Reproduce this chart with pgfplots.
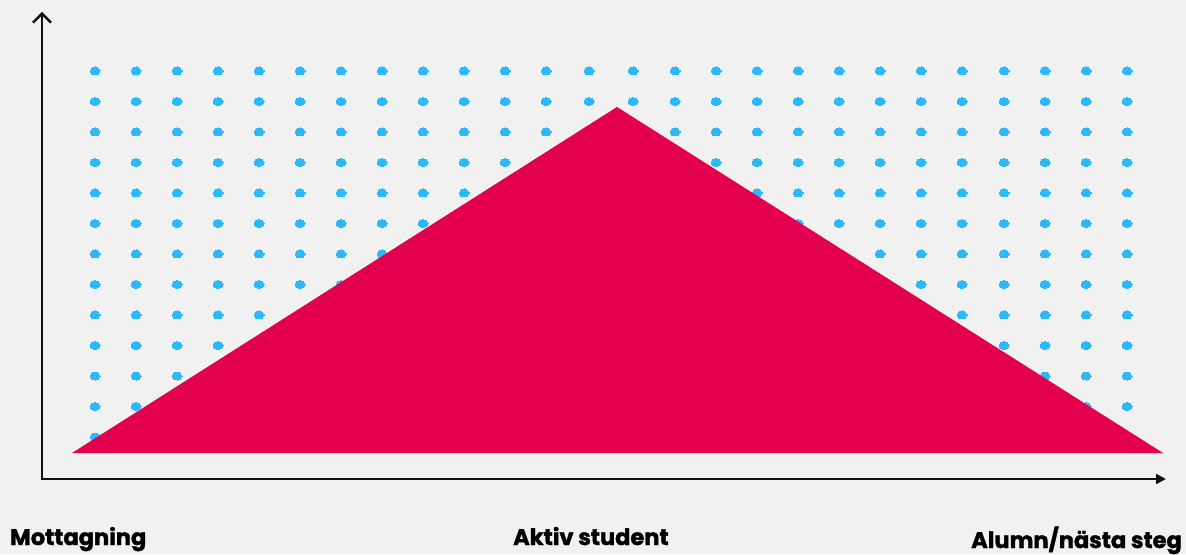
\documentclass[border=0pt]{standalone}
\usepackage{pgfplots}
\pgfplotsset{compat=1.18}
\usepackage{fontspec}
\setmainfont{Poppins}[BoldFeatures={FakeBold=1.6}]
\usetikzlibrary{arrows.meta}
\definecolor{bg}{HTML}{F1F1F1}
\definecolor{dot}{HTML}{2BB9FB}
\definecolor{tri}{HTML}{E3004F}
\definecolor{ink}{HTML}{111111}
\begin{document}
\begin{tikzpicture}
\begin{axis}[
  scale only axis, width=1186pt, height=554pt,
  xmin=0, xmax=1186, ymin=0, ymax=554,
  hide axis, clip=false, clip marker paths=true,
]
% background
\addplot[fill=bg, draw=none] coordinates {(0,0) (1186,0) (1186,554) (0,554)} -- cycle;
% dot grid
\pgfplotsset{dotstyle/.style={only marks, mark=*, color=dot, mark size=4pt, mark options={draw=dot, fill=dot, line width=0pt, xscale=1.25}}}
\addplot[dotstyle] coordinates {(95,483) (136,483) (177,483) (218,483) (259,483) (300,483) (341,483) (382,483) (423,483) (464,483) (505,483) (546,483) (589,483) (633,483) (675,483) (716,483) (757,483) (798,483) (839,483) (880,483) (921,483) (962,483) (1004,483) (1045,483) (1086,483) (1127,483)};
\addplot[dotstyle] coordinates {(95,452.5) (136,452.5) (177,452.5) (218,452.5) (259,452.5) (300,452.5) (341,452.5) (382,452.5) (423,452.5) (464,452.5) (505,452.5) (546,452.5) (589,452.5) (633,452.5) (675,452.5) (716,452.5) (757,452.5) (798,452.5) (839,452.5) (880,452.5) (921,452.5) (962,452.5) (1004,452.5) (1045,452.5) (1086,452.5) (1127,452.5)};
\addplot[dotstyle] coordinates {(95,422) (136,422) (177,422) (218,422) (259,422) (300,422) (341,422) (382,422) (423,422) (464,422) (505,422) (546,422) (589,422) (633,422) (675,422) (716,422) (757,422) (798,422) (839,422) (880,422) (921,422) (962,422) (1004,422) (1045,422) (1086,422) (1127,422)};
\addplot[dotstyle] coordinates {(95,391.5) (136,391.5) (177,391.5) (218,391.5) (259,391.5) (300,391.5) (341,391.5) (382,391.5) (423,391.5) (464,391.5) (505,391.5) (546,391.5) (589,391.5) (633,391.5) (675,391.5) (716,391.5) (757,391.5) (798,391.5) (839,391.5) (880,391.5) (921,391.5) (962,391.5) (1004,391.5) (1045,391.5) (1086,391.5) (1127,391.5)};
\addplot[dotstyle] coordinates {(95,361) (136,361) (177,361) (218,361) (259,361) (300,361) (341,361) (382,361) (423,361) (464,361) (505,361) (546,361) (589,361) (633,361) (675,361) (716,361) (757,361) (798,361) (839,361) (880,361) (921,361) (962,361) (1004,361) (1045,361) (1086,361) (1127,361)};
\addplot[dotstyle] coordinates {(95,330.5) (136,330.5) (177,330.5) (218,330.5) (259,330.5) (300,330.5) (341,330.5) (382,330.5) (423,330.5) (464,330.5) (505,330.5) (546,330.5) (589,330.5) (633,330.5) (675,330.5) (716,330.5) (757,330.5) (798,330.5) (839,330.5) (880,330.5) (921,330.5) (962,330.5) (1004,330.5) (1045,330.5) (1086,330.5) (1127,330.5)};
\addplot[dotstyle] coordinates {(95,300) (136,300) (177,300) (218,300) (259,300) (300,300) (341,300) (382,300) (423,300) (464,300) (505,300) (546,300) (589,300) (633,300) (675,300) (716,300) (757,300) (798,300) (839,300) (880,300) (921,300) (962,300) (1004,300) (1045,300) (1086,300) (1127,300)};
\addplot[dotstyle] coordinates {(95,269.5) (136,269.5) (177,269.5) (218,269.5) (259,269.5) (300,269.5) (341,269.5) (382,269.5) (423,269.5) (464,269.5) (505,269.5) (546,269.5) (589,269.5) (633,269.5) (675,269.5) (716,269.5) (757,269.5) (798,269.5) (839,269.5) (880,269.5) (921,269.5) (962,269.5) (1004,269.5) (1045,269.5) (1086,269.5) (1127,269.5)};
\addplot[dotstyle] coordinates {(95,239) (136,239) (177,239) (218,239) (259,239) (300,239) (341,239) (382,239) (423,239) (464,239) (505,239) (546,239) (589,239) (633,239) (675,239) (716,239) (757,239) (798,239) (839,239) (880,239) (921,239) (962,239) (1004,239) (1045,239) (1086,239) (1127,239)};
\addplot[dotstyle] coordinates {(95,208.5) (136,208.5) (177,208.5) (218,208.5) (259,208.5) (300,208.5) (341,208.5) (382,208.5) (423,208.5) (464,208.5) (505,208.5) (546,208.5) (589,208.5) (633,208.5) (675,208.5) (716,208.5) (757,208.5) (798,208.5) (839,208.5) (880,208.5) (921,208.5) (962,208.5) (1004,208.5) (1045,208.5) (1086,208.5) (1127,208.5)};
\addplot[dotstyle] coordinates {(95,178) (136,178) (177,178) (218,178) (259,178) (300,178) (341,178) (382,178) (423,178) (464,178) (505,178) (546,178) (589,178) (633,178) (675,178) (716,178) (757,178) (798,178) (839,178) (880,178) (921,178) (962,178) (1004,178) (1045,178) (1086,178) (1127,178)};
\addplot[dotstyle] coordinates {(95,147.5) (136,147.5) (177,147.5) (218,147.5) (259,147.5) (300,147.5) (341,147.5) (382,147.5) (423,147.5) (464,147.5) (505,147.5) (546,147.5) (589,147.5) (633,147.5) (675,147.5) (716,147.5) (757,147.5) (798,147.5) (839,147.5) (880,147.5) (921,147.5) (962,147.5) (1004,147.5) (1045,147.5) (1086,147.5) (1127,147.5)};
\addplot[dotstyle] coordinates {(95,117) (136,117) (177,117) (218,117) (259,117) (300,117) (341,117) (382,117) (423,117) (464,117) (505,117) (546,117) (589,117) (633,117) (675,117) (716,117) (757,117) (798,117) (839,117) (880,117) (921,117) (962,117) (1004,117) (1045,117) (1086,117) (1127,117)};
% triangle
\addplot[fill=tri, draw=none] coordinates {(72,101) (617,447) (1163,101)} -- cycle;
% axes
\addplot[ink, line width=2.4pt, -{Straight Barb[length=9pt,width=18pt,line width=2.4pt]}] coordinates {(42,75) (42,542)};
\addplot[ink, line width=2.4pt, -{Triangle[length=10pt,width=10pt]}] coordinates {(41,75) (1166,75)};
% labels
\node[anchor=base west, inner sep=0pt, font=\fontsize{22.5}{24}\selectfont\bfseries] at (axis cs:10,9) {Mottagning};
\node[anchor=base west, inner sep=0pt, font=\fontsize{22.5}{24}\selectfont\bfseries] at (axis cs:513,9) {Aktiv student};
\node[anchor=base east, inner sep=0pt, font=\fontsize{22.5}{24}\selectfont\bfseries] at (axis cs:1182,6) {Alumn/nästa steg};
\end{axis}
\end{tikzpicture}
\end{document}
